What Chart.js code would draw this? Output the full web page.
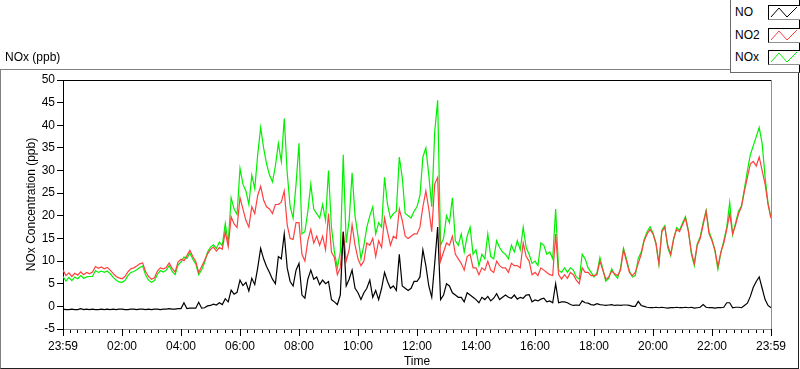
<!DOCTYPE html>
<html lang="en">
<head>
  <meta charset="UTF-8">
  <title>NOx (ppb)</title>
  <script src="https://cdn.jsdelivr.net/npm/chart.js"></script>
  <style>
    body {
      margin: 0;
      background: #fff;
      font-family: "Liberation Sans", Arial, sans-serif;
      font-size: 12px;
    }
    #wrap {
      position: relative;
      width: 800px;
      height: 369px;
      overflow: hidden;
    }
    #frame {
      position: absolute;
      left: 0;
      top: 69px;
      width: 799px;
      height: 300px;
      box-sizing: border-box;
      border-top: 1px solid #808080;
      border-left: 1px solid #808080;
      border-right: 1px solid #202020;
      border-bottom: 1px solid #202020;
      pointer-events: none;
    }
    #title {
      position: absolute;
      left: 5px;
      top: 50px;
      line-height: 14px;
      color: #000;
    }
    #legend {
      position: absolute;
      left: 730px;
      top: -1px;
      width: 70px;
      height: 74px;
      box-sizing: border-box;
      background: #fff;
      border-left: 1px solid #6a6a6a;
      border-bottom: 1px solid #6a6a6a;
      border-right: 1px solid #000;
    }
    .item {
      position: absolute;
      left: 4px;
      height: 15px;
      line-height: 15px;
      width: 64px;
    }
    .item svg {
      position: absolute;
      left: 33px;
      top: 0;
    }
  </style>
</head>
<body>
  <div id="wrap">
    <canvas id="chart" width="800" height="369"></canvas>
    <div id="frame"></div>
    <div id="title">NOx (ppb)</div>
    <div id="legend"></div>
  </div>

  <script>
    // samples every 6 minutes, starting 23:59 the day before
    const stepMin = 6;

    const no = [
      -0.6, -0.7, -0.7, -0.6, -0.7, -0.7, -0.5, -0.7, -0.6, -0.7,
      -0.6, -0.7, -0.7, -0.6, -0.7, -0.6, -0.7, -0.6, -0.7, -0.6,
      -0.6, -0.7, -0.7, -0.6, -0.6, -0.7, -0.6, -0.6, -0.7, -0.6,
      -0.7, -0.6, -0.6, -0.7, -0.6, -0.6, -0.5, -0.6, -0.6, -0.5,
      -0.5, 0.8, -0.5, -0.4, -0.4, -0.4, 0.9, -0.4, -0.3, 0.1,
      0.2, 0.5, 0.3, 0.8, 0.4, 1.7, 1.0, 3.6, 2.7, 3.1,
      5.8, 4.6, 5.3, 3.4, 6.2, 4.8, 8.5, 12.8, 10.5, 8.8,
      7.5, 6.0, 5.0, 11.0, 10.5, 16.0, 8.5, 5.5, 4.5, 8.0,
      9.5, 2.5, 1.8, 6.0, 8.0, 6.0, 6.5, 4.8, 5.8, 5.0,
      5.5, 1.5, 1.0, 0.4, 2.5, 16.5, 4.5, 6.0, 8.0, 4.0,
      3.0, 1.5, 3.0, 4.0, 5.8, 2.0, 3.5, 1.5, 4.0, 7.5,
      5.5, 4.0, 4.5, 3.5, 11.5, 4.5, 4.0, 3.5, 4.0, 5.5,
      5.5, 6.5, 12.5, 9.0, 4.5, 2.0, 9.5, 17.5, 1.5, 2.5,
      5.0, 4.5, 3.0, 2.5, 2.0, 2.0, 1.0, 3.0, 2.5, 2.0,
      1.5, 0.8, 2.0, 1.5, 2.2, 1.2, 1.8, 2.8, 1.5, 2.0,
      2.5, 2.0, 1.8, 2.5, 1.6, 2.0, 1.8, 2.5, 2.6, 1.0,
      1.4, 1.2, 1.6, 1.8, 1.0, 1.2, 0.8, 5.0, 0.8, 1.0,
      1.0, 0.8, 0.4, 0.2, 0.3, 0.2, 1.2, 0.8, 0.7, 0.4,
      0.3, 0.6, 0.4, 0.3, 0.2, 0.3, 0.4, 0.2, 0.3, 0.2,
      0.3, 0.3, 0.2, 0.0, 0.0, 1.1, 0.2, 0.0, -0.2, -0.3,
      -0.3, -0.2, -0.3, -0.2, -0.3, -0.4, -0.3, -0.3, -0.2, -0.3,
      -0.3, -0.2, -0.3, -0.2, -0.4, -0.3, -0.2, 0.4, -0.2, -0.3,
      -0.3, -0.4, -0.3, -0.3, -0.2, 0.8, 0.8, -0.3, -0.2, -0.2,
      -0.3, 0.2, 0.7, 2.2, 4.2, 5.5, 6.5, 4.0, 1.5, 0.2,
      -0.3
    ];

    const no2 = [
      8.0, 6.8, 7.4, 6.6, 7.3, 6.9, 7.6, 7.0, 7.5, 7.2,
      7.6, 8.8, 8.4, 8.7, 8.3, 8.6, 8.0, 7.3, 6.6, 6.3,
      6.1, 6.6, 7.6, 8.3, 8.5, 8.9, 9.4, 9.6, 7.7, 6.6,
      6.0, 6.3, 7.8, 8.5, 8.3, 8.6, 9.6, 8.4, 7.6, 9.8,
      10.4, 10.1, 11.2, 12.4, 11.0, 9.9, 7.5, 8.8, 10.2, 11.6,
      12.6, 13.1, 12.2, 13.0, 12.6, 16.5, 13.2, 19.8, 18.2, 17.4,
      24.0, 21.5, 19.0, 17.5, 22.0, 20.5, 24.5, 26.5, 23.5, 22.0,
      21.5, 20.5, 22.5, 22.5, 23.0, 25.5, 18.0, 15.0, 14.8, 18.5,
      18.5, 11.5, 10.0, 14.5, 17.0, 14.0, 15.5, 13.5, 15.5, 12.5,
      20.5, 12.0, 10.8, 7.0, 8.5, 16.5, 10.0, 12.5, 18.0, 13.5,
      10.5, 9.0, 10.0, 14.0, 13.5, 15.0, 11.0, 14.5, 13.0, 19.5,
      16.5, 13.5, 15.5, 15.0, 21.5, 19.0, 15.5, 15.0, 15.5, 16.0,
      16.0, 17.5, 22.0, 25.5, 21.5, 16.5, 27.0, 28.5, 10.0, 12.0,
      14.0, 13.5, 15.5, 11.5, 10.5, 9.5, 8.0, 11.0, 11.5, 8.5,
      8.5, 7.0, 8.5, 8.0, 10.0, 8.0, 7.5, 10.0, 9.0, 8.5,
      8.5, 7.5, 9.5, 9.0, 9.0, 8.5, 14.0, 11.0, 10.0, 7.0,
      7.5, 6.8, 8.5, 8.0, 7.5, 7.0, 6.8, 16.0, 7.0, 6.0,
      7.0, 6.2, 7.5, 7.0, 5.8, 5.0, 8.5, 7.5, 7.5, 6.8,
      6.8, 7.0, 10.0, 8.0, 6.0, 6.5, 7.8, 7.2, 6.8, 8.0,
      12.5, 10.0, 7.5, 6.8, 7.5, 9.5, 11.5, 14.5, 16.0, 17.0,
      16.0, 14.0, 9.5, 16.5, 17.5, 13.5, 11.5, 15.0, 17.0, 16.5,
      18.0, 19.5, 16.5, 12.0, 9.5, 13.5, 15.0, 18.0, 21.0, 16.0,
      14.5, 12.5, 8.8, 12.0, 14.0, 17.0, 20.5, 16.0, 18.0, 20.5,
      22.0, 25.5, 28.5, 31.5, 32.0, 31.0, 33.0, 30.0, 27.0, 22.5,
      19.5
    ];

    const nox = [
      6.6, 5.6, 6.4, 5.7, 6.5, 6.1, 6.8, 6.2, 6.5, 6.6,
      6.6, 7.9, 7.5, 7.8, 7.5, 7.8, 7.2, 6.4, 5.8, 5.4,
      5.3, 5.7, 6.8, 7.5, 7.7, 8.1, 8.6, 8.9, 6.9, 5.8,
      5.3, 5.7, 7.1, 7.9, 7.6, 8.0, 9.0, 7.7, 7.0, 9.2,
      9.8, 10.9, 10.6, 11.8, 10.4, 9.4, 7.0, 8.1, 9.7, 12.0,
      13.1, 13.6, 12.8, 14.2, 13.4, 18.3, 14.0, 24.0, 21.5, 20.3,
      30.5, 27.0, 25.5, 22.5, 29.0, 26.0, 33.5, 39.5, 35.0, 31.5,
      29.0, 27.5, 31.0, 36.0, 32.0, 41.5, 29.5, 22.0, 19.5, 27.0,
      36.0, 16.0, 16.5, 21.0, 27.0, 21.5, 20.5, 19.5, 22.5, 19.0,
      30.0, 17.5, 12.0, 8.5, 12.0, 33.5, 14.0, 19.0, 29.5, 20.0,
      15.5, 10.5, 13.5, 17.5, 20.0, 22.0, 16.0, 18.5, 17.5, 28.5,
      22.5, 19.5, 20.5, 21.0, 33.0, 28.5, 20.5, 20.0, 19.5, 21.0,
      22.0, 24.5, 33.0, 35.0, 29.0, 22.0, 38.5, 45.5, 13.5, 15.0,
      20.0, 18.5, 24.0, 14.5, 13.5, 16.0, 12.0, 15.5, 17.5, 11.5,
      12.5, 9.0, 11.5, 10.5, 16.0, 11.0, 10.5, 14.5, 13.0, 12.0,
      11.5, 10.5, 13.5, 12.0, 14.5, 12.5, 17.5, 13.0, 11.5, 9.5,
      10.0, 9.0, 14.0, 13.5, 11.5, 12.0, 10.5, 21.5, 8.0, 7.5,
      8.5, 7.5, 8.5, 8.0, 6.5, 6.0, 11.5, 10.5, 8.5, 7.5,
      6.5, 7.4, 10.8, 8.2, 5.6, 6.2, 8.3, 7.0, 6.2, 8.5,
      12.8, 10.5, 7.8, 6.5, 6.8, 10.6, 12.0, 14.8, 16.5, 17.6,
      16.2, 13.8, 9.2, 16.8, 17.8, 13.0, 11.2, 14.8, 17.4, 16.8,
      18.4, 19.8, 16.8, 11.6, 9.0, 13.8, 15.4, 18.5, 21.2, 16.5,
      14.8, 12.2, 8.2, 11.8, 14.5, 17.5, 23.0, 15.8, 18.5, 21.0,
      22.2, 26.0, 30.0, 33.5, 35.5, 37.5, 39.5, 36.0, 28.5, 22.8,
      19.5
    ];

    const minutes = no.map((_, i) => i * stepMin);
    const timeLabels = ['23:59', '02:00', '04:00', '06:00', '08:00', '10:00', '12:00',
                        '14:00', '16:00', '18:00', '20:00', '22:00', '23:59'];
    const seriesNames = ['NO', 'NO2', 'NOx'];
    const seriesColors = ['#000000', '#ff4040', '#00f000'];

    const toPoints = arr => arr.map((v, i) => ({ x: minutes[i], y: v }));

    // frame lines on top and right of the plot, long ticks for the labelled hours
    const plotFrame = {
      id: 'plotFrame',
      afterDraw(chart) {
        const { ctx, chartArea: a, scales: { x } } = chart;
        ctx.save();
        ctx.lineWidth = 1;
        ctx.strokeStyle = '#000';
        ctx.beginPath();
        ctx.moveTo(a.left, a.top + 0.5);
        ctx.lineTo(a.right, a.top + 0.5);
        ctx.stroke();
        ctx.strokeStyle = '#909090';
        ctx.beginPath();
        ctx.moveTo(a.right + 0.5, a.top);
        ctx.lineTo(a.right + 0.5, a.bottom);
        ctx.stroke();
        ctx.strokeStyle = '#000';
        ctx.beginPath();
        for (let m = 0; m <= 1440; m += 120) {
          const px = Math.round(x.getPixelForValue(m)) + 0.5;
          ctx.moveTo(px, a.bottom);
          ctx.lineTo(px, a.bottom + 7);
        }
        ctx.stroke();
        ctx.restore();
      }
    };

    const font = { family: "'Liberation Sans', Arial, sans-serif", size: 12 };

    new Chart(document.getElementById('chart'), {
      type: 'line',
      data: {
        datasets: [
          { label: seriesNames[0], data: toPoints(no), borderColor: seriesColors[0] },
          { label: seriesNames[1], data: toPoints(no2), borderColor: seriesColors[1] },
          { label: seriesNames[2], data: toPoints(nox), borderColor: seriesColors[2] }
        ]
      },
      options: {
        responsive: false,
        animation: false,
        events: [],
        layout: { padding: { top: 80, right: 29, left: 0, bottom: 0 } },
        elements: {
          line: { borderWidth: 1.2, tension: 0, fill: false },
          point: { radius: 0 }
        },
        plugins: { legend: { display: false }, tooltip: { enabled: false } },
        scales: {
          x: {
            type: 'linear',
            min: 0,
            max: 1440,
            afterFit: s => { s.height = 40; },
            border: { color: '#909090' },
            grid: { drawOnChartArea: false, tickLength: 4, tickColor: '#000' },
            ticks: {
              stepSize: 15,
              autoSkip: false,
              maxTicksLimit: 200,
              maxRotation: 0,
              padding: 6,
              color: '#000',
              font: font,
              callback: v => (v % 120 === 0 ? timeLabels[v / 120] : '')
            },
            title: { display: true, text: 'Time', color: '#000', font: font, padding: { top: 0, bottom: 0 } }
          },
          y: {
            min: -5,
            max: 50,
            afterFit: s => { s.width = 63; },
            border: { color: '#000' },
            grid: { drawOnChartArea: false, tickLength: 6, tickColor: '#000' },
            ticks: { stepSize: 5, padding: 2, color: '#000', font: font },
            title: {
              display: true,
              text: 'NOx Concentration (ppb)',
              color: '#000',
              font: font,
              padding: { top: 24, bottom: 0 }
            }
          }
        }
      },
      plugins: [plotFrame]
    });

    // legend with zigzag swatches, like the reference
    const legend = document.getElementById('legend');
    const rowTops = [6, 29, 51];
    seriesNames.forEach((name, i) => {
      const row = document.createElement('div');
      row.className = 'item';
      row.style.top = rowTops[i] + 'px';
      row.innerHTML = name +
        '<svg width="33" height="15" viewBox="0 0 33 15">' +
        '<rect x="0.5" y="0.5" width="32" height="14" fill="#fff" stroke="#000"/>' +
        '<line x1="32.5" y1="0.5" x2="32.5" y2="14.5" stroke="#909090"/>' +
        '<line x1="0.5" y1="14.5" x2="32.5" y2="14.5" stroke="#909090"/>' +
        '<polyline points="3,12 11,3 19,12 29,2" fill="none" stroke="' + seriesColors[i] + '" stroke-width="1"/>' +
        '</svg>';
      legend.appendChild(row);
    });
  </script>
</body>
</html>
